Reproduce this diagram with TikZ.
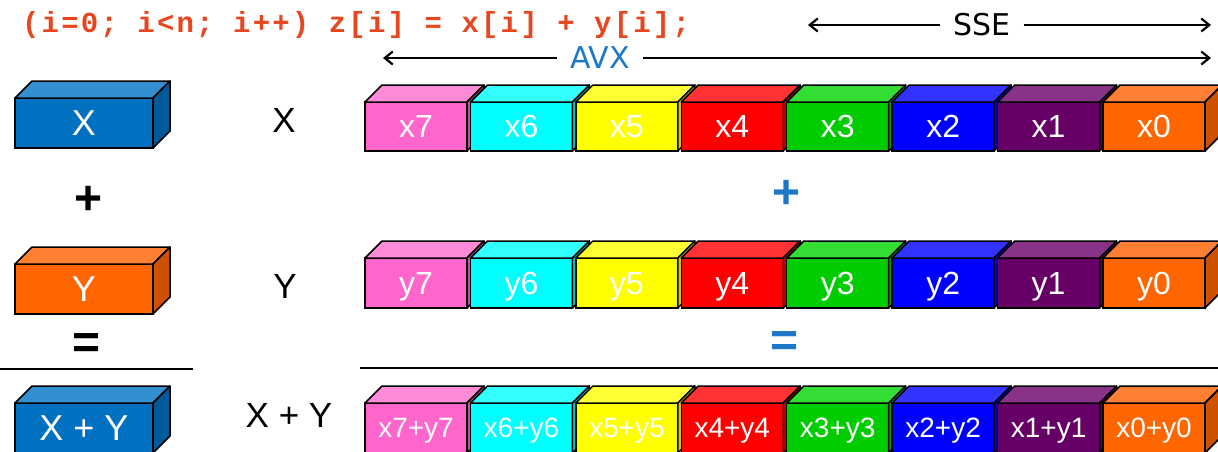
\documentclass[tikz,border=0pt]{standalone}
\usepackage{fontspec}
\setmainfont{Liberation Sans}
\newfontfamily\codefont{Liberation Mono}[LetterSpace=7.5]
\newfontfamily\archfont{DejaVu Sans}
\usetikzlibrary{arrows.meta}
\newcommand\fsz[1]{\fontsize{#1}{#1}\selectfont}
% colours: F front, T top, S side
\definecolor{pinkF}{HTML}{FF66CC}\definecolor{pinkT}{HTML}{FF8AD8}\definecolor{pinkS}{HTML}{CC4FA3}
\definecolor{cyanF}{HTML}{00FFFF}\definecolor{cyanT}{HTML}{33FFFF}\definecolor{cyanS}{HTML}{00C8C8}
\definecolor{yellowF}{HTML}{FFFF00}\definecolor{yellowT}{HTML}{FFFF33}\definecolor{yellowS}{HTML}{CCCC00}
\definecolor{redF}{HTML}{FF0000}\definecolor{redT}{HTML}{FF3333}\definecolor{redS}{HTML}{C80000}
\definecolor{greenF}{HTML}{00CC00}\definecolor{greenT}{HTML}{33DD33}\definecolor{greenS}{HTML}{00A000}
\definecolor{blueF}{HTML}{0000FF}\definecolor{blueT}{HTML}{3333FF}\definecolor{blueS}{HTML}{0000C8}
\definecolor{purpleF}{HTML}{660066}\definecolor{purpleT}{HTML}{883388}\definecolor{purpleS}{HTML}{4D004D}
\definecolor{orangeF}{HTML}{FF6600}\definecolor{orangeT}{HTML}{FF8033}\definecolor{orangeS}{HTML}{CC5200}
\definecolor{lblueF}{HTML}{0070C0}\definecolor{lblueT}{HTML}{3390D0}\definecolor{lblueS}{HTML}{005A9A}
\definecolor{codecol}{HTML}{E8461E}
\definecolor{archblue}{HTML}{1E78C8}
\tikzset{
  face/.style={draw=black, line width=1.5pt, inner sep=0pt, outer sep=0pt,
    text=white, text depth=0pt},
  facedraw/.style={draw=black, line width=1.5pt, line join=round},
  arch/.style={font=\archfont\fsz{30}, inner xsep=13pt, inner ysep=0pt},
  archline/.style={line width=2.2pt, -{Straight Barb[length=8pt,width=13pt,line width=2.2pt]}},
  rowlabel/.style={font=\fsz{35}, text=black, inner sep=0pt},
  opsign/.style={font=\bfseries\fsz{48}, inner sep=0pt},
  divider/.style={line width=2.5pt},
}
% name, x, ytop, width, height, colour base, label, font size
\newcommand\regbox[8]{%
  \node[face, fill=#6F, minimum width=#4pt, minimum height=#5pt,
        anchor=north west, font=\fsz{#8}] (#1) at (#2,#3) {#7};
  \filldraw[facedraw, fill=#6T] (#1.north west) -- ([shift={(17,-17)}]#1.north west)
     -- ([shift={(17,-17)}]#1.north east) -- (#1.north east) -- cycle;
  \filldraw[facedraw, fill=#6S] (#1.north east) -- ([shift={(17,-17)}]#1.north east)
     -- ([shift={(17,-17)}]#1.south east) -- (#1.south east) -- cycle;
}
\begin{document}
\begin{tikzpicture}[x=1pt,y=-1pt]
\useasboundingbox (0,0) rectangle (1218,451);
\fill[white] (0,0) rectangle (1218,451);

% code line
\node[anchor=base west, inner sep=0pt, text=codecol, font=\codefont\bfseries\fsz{29}] (code)
  at (22,32) {(i=0; i<n; i++) z[i] = x[i] + y[i];};

% SSE / AVX spans
\coordinate (sseL) at (808,25);
\coordinate (sseR) at (1211,25);
\node[arch] (sse) at (982,25) {SSE};
\draw[archline] (sse.west) -- (sseL);
\draw[archline] (sse.east) -- (sseR);
\coordinate (avxL) at (383,58);
\coordinate (avxR) at (1211,58);
\node[arch, text=archblue] (avx) at (600,58) {AVX};
\draw[archline] (avx.west) -- (avxL);
\draw[archline] (avx.east) -- (avxR);

% left scalar boxes
\regbox{bx}{15}{98}{138}{50}{lblue}{X}{36}
\node[opsign] (lplus) at (89,200) {+};
\regbox{by}{15}{264}{138}{50}{orange}{Y}{36}
\node[opsign] (leq) at (87,346) {=};
\draw[divider] (0,369) -- (193,369);
\regbox{bxy}{15}{403}{138}{50}{lblue}{X + Y}{36}

% row labels
\node[rowlabel] (lx) at (284,120) {X};
\node[rowlabel] (ly) at (285,286) {Y};
\node[rowlabel] (lxy) at (289,415) {X + Y};

% vector rows
\foreach \bi/\bcol/\blab in {0/pink/7,1/cyan/6,2/yellow/5,3/red/4,4/green/3,5/blue/2,6/purple/1,7/orange/0}{
  \regbox{x\blab}{365+105.43*\bi}{102}{102}{49}{\bcol}{x\blab}{32}
  \regbox{y\blab}{365+105.43*\bi}{258}{102}{50}{\bcol}{y\blab}{32}
  \regbox{s\blab}{365+105.43*\bi}{403}{102}{50}{\bcol}{x\blab+y\blab}{28}
}
\node[opsign, text=archblue] (rplus) at (787,194) {+};
\node[opsign, text=archblue] (req) at (785,344) {=};
\draw[divider] (360,368) -- (1218,368);
\end{tikzpicture}
\end{document}
